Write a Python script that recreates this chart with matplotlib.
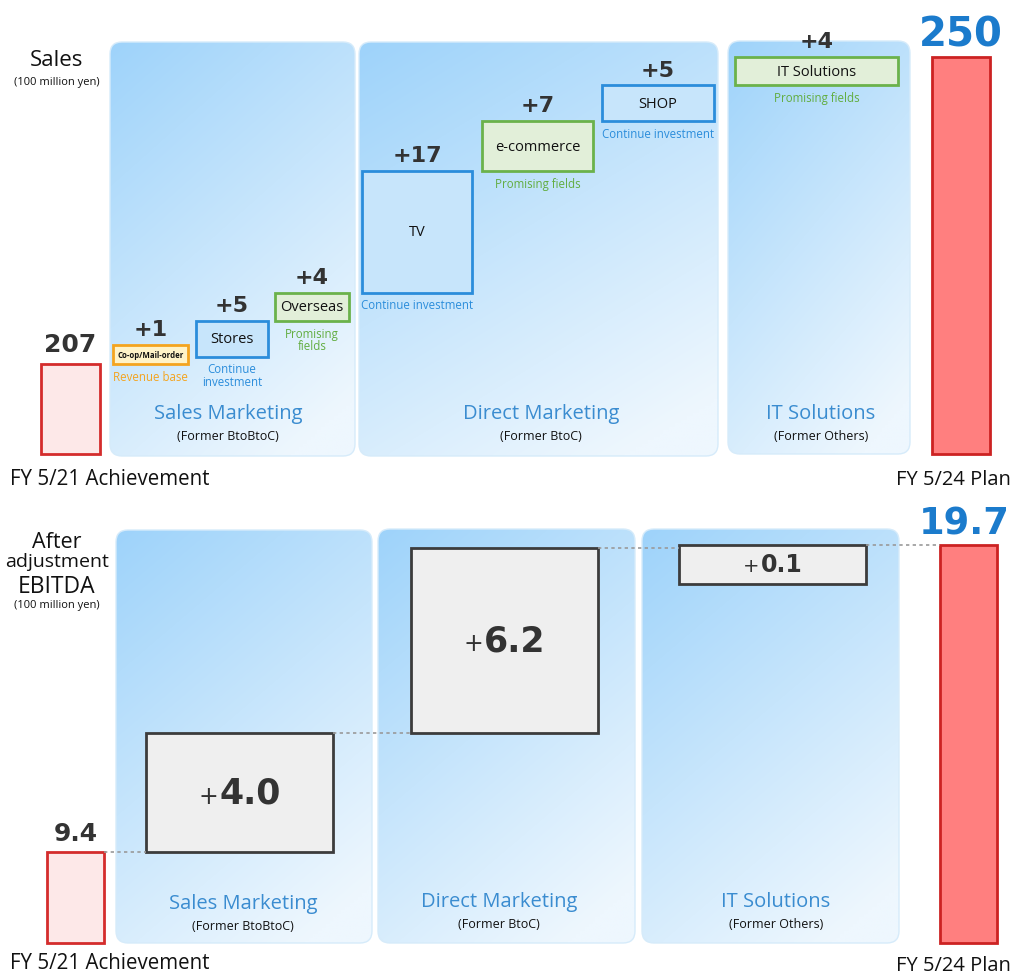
import matplotlib
matplotlib.use("Agg")
import matplotlib.pyplot as plt
import numpy as np
from matplotlib.patches import FancyBboxPatch
from matplotlib.offsetbox import TextArea, HPacker, AnnotationBbox

# ---------------- data ----------------
start_label = "FY 5/21 Achievement"
end_label = "FY 5/24 Plan"

sales_start = 207
sales_end = 250
sales_items = ["Co-op/Mail-order", "Stores", "Overseas", "TV", "e-commerce", "SHOP", "IT Solutions"]
sales_steps = [1, 5, 4, 17, 7, 5, 4]
sales_notes = ["Revenue base", "Continue\ninvestment", "Promising\nfields", "Continue investment",
               "Promising fields", "Continue investment", "Promising fields"]
sales_kinds = ["base", "invest", "promising", "invest", "promising", "invest", "promising"]

segments = ["Sales Marketing", "Direct Marketing", "IT Solutions"]
segments_former = ["(Former BtoBtoC)", "(Former BtoC)", "(Former Others)"]

ebitda_start = 9.4
ebitda_end = 19.7
ebitda_steps = [4.0, 6.2, 0.1]

# ---------------- layout / style ----------------
W, H = 1015, 979
TXT = ["Open Sans", "DejaVu Sans"]
NUM = ["DejaVu Sans"]
DARK = "#333333"
BLUE_TXT = "#3a8cd0"

kind_style = {
    "base": dict(edge="#f4a41f", face="#fff3c8", note="#f4a41f", fs=5.6, weight="bold"),
    "invest": dict(edge="#2b8ddb", face="#c7e5fb", note="#2b8ddb", fs=10.5, weight="normal"),
    "promising": dict(edge="#6bb24b", face="#e2efd9", note="#62ad40", fs=10.5, weight="normal"),
}

# x extents in pixels: start bar, items..., end bar
sales_xl = [41, 113, 196, 275, 362, 482, 602, 735, 932]
sales_xr = [100, 188, 268, 349, 472, 593, 714, 898, 990]
ebitda_xl = [47, 146, 411, 679, 940]
ebitda_xr = [104, 333, 598, 866, 997]

top_panels = [(110, 43, 355, 457), (359, 43, 718, 457), (728, 42, 910, 455)]
bot_panels = [(116, 531, 372, 944), (378, 530, 635, 944), (642, 530, 899, 944)]
top_seg_pos = [(228, 414), (541, 414), (821, 414)]
bot_seg_pos = [(243, 904), (499, 902), (776, 902)]

fig = plt.figure(figsize=(W / 100, H / 100), dpi=100)
fig.patch.set_facecolor("white")

# background / decoration axes in pixel units
bg = fig.add_axes([0, 0, 1, 1], zorder=0)
bg.set_xlim(0, W)
bg.set_ylim(H, 0)
bg.axis("off")

c0 = np.array([158, 211, 250]) / 255.0
c1 = np.array([238, 247, 254]) / 255.0
vv, hh = np.mgrid[0:1:120j, 0:1:120j]
t = np.clip(0.72 * vv + 0.38 * hh, 0, 1)[..., None]
grad = c0 * (1 - t) + c1 * t


def panel(x0, y0, x1, y1):
    p = FancyBboxPatch((x0, y0), x1 - x0, y1 - y0,
                       boxstyle="round,pad=0,rounding_size=12",
                       facecolor="none", edgecolor="#d6ebfa", lw=1.0, zorder=1)
    bg.add_patch(p)
    im = bg.imshow(grad, extent=(x0, x1, y1, y0), aspect="auto", zorder=0.5,
                   interpolation="bilinear")
    im.set_clip_path(p)


for pr in top_panels + bot_panels:
    panel(*pr)
bg.set_xlim(0, W)
bg.set_ylim(H, 0)

for (name, former, (x, y)) in zip(segments, segments_former, top_seg_pos):
    bg.text(x, y, name, ha="center", va="center", fontsize=14.5, color=BLUE_TXT, family=TXT)
    bg.text(x, y + 23, former, ha="center", va="center", fontsize=9, color="#111", family=TXT)
for (name, former, (x, y)) in zip(segments, segments_former, bot_seg_pos):
    bg.text(x, y, name, ha="center", va="center", fontsize=14.5, color=BLUE_TXT, family=TXT)
    bg.text(x, y + 23, former, ha="center", va="center", fontsize=9, color="#111", family=TXT)

bg.text(57, 60, "Sales", ha="center", va="center", fontsize=16, color="#111", family=TXT)
bg.text(57, 83, "(100 million yen)", ha="center", va="center", fontsize=8, color="#111", family=TXT)
bg.text(57, 543, "After", ha="center", va="center", fontsize=15.5, color="#111", family=TXT)
bg.text(57, 562, "adjustment", ha="center", va="center", fontsize=14, color="#111", family=TXT)
bg.text(57, 587, "EBITDA", ha="center", va="center", fontsize=16.5, color="#111", family=TXT)
bg.text(57, 606, "(100 million yen)", ha="center", va="center", fontsize=8, color="#111", family=TXT)

bg.text(10, 480, start_label, ha="left", va="center", fontsize=14.8, color="#111", family=TXT)
bg.text(1011, 480, end_label, ha="right", va="center", fontsize=14.5, color="#111", family=TXT)
bg.text(10, 964, start_label, ha="left", va="center", fontsize=14.8, color="#111", family=TXT)
bg.text(1011, 966, end_label, ha="right", va="center", fontsize=14.5, color="#111", family=TXT)

# ---------------- Sales waterfall ----------------
SALES_BASE = 194.4
ax1 = fig.add_axes([0, 1 - 490 / H, 1, 490 / H], zorder=2)
ax1.set_xlim(0, W)
ax1.set_ylim(189.5, 258.1)
ax1.axis("off")
ax1.patch.set_alpha(0)

cs = [(l + r) / 2 for l, r in zip(sales_xl, sales_xr)]
ws = [r - l for l, r in zip(sales_xl, sales_xr)]

ax1.bar(cs[0], sales_start - SALES_BASE, bottom=SALES_BASE, width=ws[0],
        facecolor="#fde8e8", edgecolor="#d42c2c", lw=2)
ax1.annotate(f"{sales_start}", (cs[0], sales_start), xytext=(0, 9), textcoords="offset points",
             ha="center", va="baseline", fontsize=18, weight="bold", color=DARK, family=NUM)
ax1.bar(cs[-1], sales_end - SALES_BASE, bottom=SALES_BASE, width=ws[-1],
        facecolor="#ff7f7f", edgecolor="#cc2222", lw=2)
ax1.annotate(f"{sales_end}", (cs[-1], sales_end), xytext=(0, 8), textcoords="offset points",
             ha="center", va="baseline", fontsize=29, weight="bold", color="#1b7bcc", family=NUM)

MIN_S = 2.7
cum = sales_start
for i, (name, v, note, kind) in enumerate(zip(sales_items, sales_steps, sales_notes, sales_kinds)):
    st = kind_style[kind]
    h = max(v, MIN_S)
    x = cs[i + 1]
    ax1.bar(x, h, bottom=cum, width=ws[i + 1], facecolor=st["face"], edgecolor=st["edge"], lw=2)
    ax1.text(x, cum + h / 2, name, ha="center", va="center", fontsize=st["fs"],
             weight=st["weight"], color="#111", family=TXT)
    ax1.annotate(f"+{v}", (x, cum + h), xytext=(0, 7), textcoords="offset points",
                 ha="center", va="baseline", fontsize=16, weight="bold", color=DARK, family=NUM)
    ax1.annotate(note, (x, cum), xytext=(0, -4), textcoords="offset points",
                 ha="center", va="top", fontsize=8.3, color=st["note"], family=TXT, linespacing=0.95)
    cum += v

# ---------------- EBITDA waterfall ----------------
EB_BASE = 6.35
ax2 = fig.add_axes([0, 0, 1, 489 / H], zorder=2)
ax2.set_xlim(0, W)
ax2.set_ylim(5.18, 21.58)
ax2.axis("off")
ax2.patch.set_alpha(0)

ce = [(l + r) / 2 for l, r in zip(ebitda_xl, ebitda_xr)]
we = [r - l for l, r in zip(ebitda_xl, ebitda_xr)]

ax2.bar(ce[0], ebitda_start - EB_BASE, bottom=EB_BASE, width=we[0],
        facecolor="#fde8e8", edgecolor="#d42c2c", lw=2)
ax2.annotate(f"{ebitda_start}", (ce[0], ebitda_start), xytext=(0, 9), textcoords="offset points",
             ha="center", va="baseline", fontsize=18, weight="bold", color=DARK, family=NUM)
ax2.bar(ce[-1], ebitda_end - EB_BASE, bottom=EB_BASE, width=we[-1],
        facecolor="#ff7f7f", edgecolor="#cc2222", lw=2)
ax2.annotate(f"{ebitda_end}", (ce[-1] - 4, ebitda_end), xytext=(0, 8), textcoords="offset points",
             ha="center", va="baseline", fontsize=26.5, weight="bold", color="#1b7bcc", family=NUM)

MIN_E = 1.3
cum = ebitda_start
prev_right = ebitda_xr[0]
for i, v in enumerate(ebitda_steps):
    top = cum + v
    h = max(v, MIN_E)
    x = ce[i + 1]
    ax2.plot([prev_right, ebitda_xl[i + 1]], [cum, cum], ls=(0, (2, 2)), color="#9a9a9a", lw=1.2)
    ax2.bar(x, h, bottom=top - h, width=we[i + 1], facecolor="#efefef", edgecolor="#3c3c3c", lw=2)
    big = v >= 1
    pk = TextArea("+", textprops=dict(fontsize=17 if big else 14, color=DARK, family=NUM))
    nm = TextArea(f"{v:.1f}", textprops=dict(fontsize=25 if big else 17, weight="bold",
                                             color=DARK, family=NUM))
    pack = HPacker(children=[pk, nm], align="baseline", pad=0, sep=1)
    ax2.add_artist(AnnotationBbox(pack, (x, top - h / 2), xycoords="data", frameon=False,
                                  box_alignment=(0.5, 0.5)))
    prev_right = ebitda_xr[i + 1]
    cum = top
ax2.plot([prev_right, ebitda_xl[-1]], [ebitda_end, ebitda_end], ls=(0, (2, 2)), color="#9a9a9a", lw=1.2)

fig.savefig("out.png", dpi=100, facecolor="white")
